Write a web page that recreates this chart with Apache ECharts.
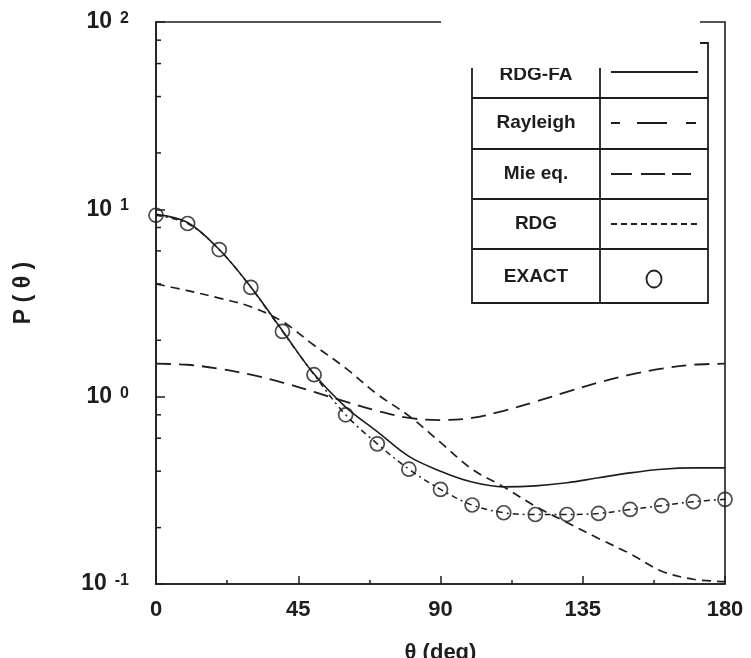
<!DOCTYPE html>
<html>
<head>
<meta charset="utf-8">
<script src="https://cdn.jsdelivr.net/npm/echarts@6/dist/echarts.min.js"></script>
<style>
  html, body { margin: 0; padding: 0; background: #fff; }
  #chart { width: 751px; height: 658px; }
</style>
</head>
<body>
<div id="chart"></div>
<script>
// scattering angle (deg)
const thetaDeg = [0, 10, 20, 30, 40, 50, 60, 70, 80, 90, 100, 110, 120, 130, 140, 150, 160, 170, 180]

// phase function values
const rdgfaP = [9.4, 8.5, 6.1, 3.85, 2.25, 1.32, 0.88, 0.65, 0.48, 0.4, 0.35, 0.33, 0.334, 0.347, 0.369, 0.392, 0.41, 0.417, 0.417]
const rayleighP = [1.5, 1.48, 1.41, 1.31, 1.19, 1.06, 0.94, 0.84, 0.77, 0.75, 0.77, 0.84, 0.94, 1.06, 1.19, 1.31, 1.41, 1.48, 1.5]
const rdgP = [4.0, 3.68, 3.36, 3.02, 2.52, 1.88, 1.42, 1.03, 0.79, 0.57, 0.41, 0.33, 0.26, 0.213, 0.175, 0.145, 0.117, 0.106, 0.103]
const mieP = [9.3, 8.4, 6.1, 3.83, 2.23, 1.31, 0.8, 0.56, 0.41, 0.32, 0.264, 0.24, 0.235, 0.235, 0.238, 0.25, 0.262, 0.275, 0.283]
const exactP = [9.3, 8.4, 6.1, 3.83, 2.23, 1.31, 0.8, 0.56, 0.41, 0.32, 0.264, 0.24, 0.235, 0.235, 0.238, 0.25, 0.262, 0.275, 0.283]

// axis ticks
const xTicks = [0, 45, 90, 135, 180]
const yMinorTicks = [0.2, 0.4, 0.6, 0.8, 2, 4, 6, 8, 20, 40, 60, 80]

// legend rows
const legendNames = ['RDG-FA', 'Rayleigh', 'Mie eq.', 'RDG', 'EXACT']

const INK = '#1e1e1e'
const FONT = '"Liberation Sans", Arial, Helvetica, sans-serif'

const chart = echarts.init(document.getElementById('chart'))

function pairs(ys) {
  return thetaDeg.map((t, i) => [t, ys[i]])
}

function lineSeries(name, ys, dash, width) {
  return {
    name,
    type: 'line',
    data: pairs(ys),
    smooth: 0.35,
    showSymbol: false,
    symbol: 'none',
    silent: true,
    lineStyle: { color: INK, width: width || 1.6, type: dash || 'solid' },
    z: 3
  }
}

// legend table (drawn as graphics, like the boxed key of the original)
const tbl = { x0: 472, x1: 708, xm: 600, ys: [43, 98, 149, 199, 249, 303] }
const legendGraphics = []
legendGraphics.push({
  type: 'rect',
  shape: { x: tbl.x0, y: tbl.ys[0], width: tbl.x1 - tbl.x0, height: tbl.ys[5] - tbl.ys[0] },
  style: { fill: '#fff', stroke: INK, lineWidth: 1.8 },
  z: 100
})
tbl.ys.slice(1, 5).forEach(y => {
  legendGraphics.push({
    type: 'line',
    shape: { x1: tbl.x0, y1: y, x2: tbl.x1, y2: y },
    style: { stroke: INK, lineWidth: 1.8 },
    z: 101
  })
})
legendGraphics.push({
  type: 'line',
  shape: { x1: tbl.xm, y1: tbl.ys[0], x2: tbl.xm, y2: tbl.ys[5] },
  style: { stroke: INK, lineWidth: 1.8 },
  z: 101
})
const rowCenters = [75, 123, 174, 224, 277]
legendNames.forEach((name, i) => {
  legendGraphics.push({
    type: 'text',
    x: (tbl.x0 + tbl.xm) / 2,
    y: rowCenters[i],
    style: {
      text: name, fill: INK, font: 'bold 19px ' + FONT,
      textAlign: 'center', textVerticalAlign: 'middle'
    },
    z: 102
  })
})
const sampleY = [72, 123, 174, 224]
const sampleDash = [null, [9, 17, 30, 19, 10], [21, 9, 24, 7, 19], [6, 4]]
sampleDash.forEach((dash, i) => {
  legendGraphics.push({
    type: 'line',
    shape: { x1: 611, y1: sampleY[i], x2: 698, y2: sampleY[i] },
    style: { stroke: INK, lineWidth: 1.8, lineDash: dash || null },
    z: 102
  })
})
legendGraphics.push({
  type: 'ellipse',
  shape: { cx: 654, cy: 279, rx: 7.5, ry: 8.5 },
  style: { fill: 'none', stroke: INK, lineWidth: 1.8 },
  z: 102
})
// white patch over the top of the key, as in the scan
legendGraphics.push({
  type: 'rect',
  shape: { x: 441, y: 6, width: 259, height: 62 },
  style: { fill: '#fff' },
  z: 110
})

const option = {
  backgroundColor: '#fff',
  animation: false,
  textStyle: { fontFamily: FONT, color: INK },
  grid: {
    left: 156,
    right: 26,
    top: 22,
    bottom: 74,
    containLabel: false,
    outerBoundsMode: 'none',
    show: true,
    borderColor: INK,
    borderWidth: 1.6,
    backgroundColor: 'transparent'
  },
  xAxis: {
    type: 'value',
    min: 0,
    max: 180,
    interval: 45,
    name: 'θ (deg)',
    nameLocation: 'middle',
    nameGap: 58,
    nameTextStyle: { fontSize: 22, fontWeight: 'bold', color: INK, fontFamily: FONT },
    axisLine: { lineStyle: { color: INK, width: 1.6 } },
    axisTick: { inside: true, length: 8, lineStyle: { color: INK, width: 1.5 } },
    minorTick: { show: true, splitNumber: 2, length: 4, lineStyle: { color: INK, width: 1.5 } },
    splitLine: { show: false },
    axisLabel: {
      margin: 15,
      fontSize: 22,
      fontWeight: 'bold',
      color: INK,
      fontFamily: FONT,
      formatter: v => (xTicks.indexOf(v) >= 0 ? String(v) : '')
    }
  },
  yAxis: {
    type: 'log',
    logBase: 10,
    min: 0.1,
    max: 100,
    name: 'P ( θ )',
    nameLocation: 'middle',
    nameGap: 121,
    nameRotate: 90,
    nameTextStyle: { fontSize: 23, fontWeight: 'bold', color: INK, fontFamily: FONT, padding: [0, 0, 0, 20] },
    axisLine: { lineStyle: { color: INK, width: 1.6 } },
    axisTick: { inside: true, length: 9, lineStyle: { color: INK, width: 1.5 } },
    splitLine: { show: false },
    axisLabel: {
      margin: 27,
      formatter: v => '{b|10}{e|' + Math.round(Math.log10(v)) + '}',
      rich: {
        b: { fontSize: 23, fontWeight: 'bold', color: INK, fontFamily: FONT },
        e: { fontSize: 16, fontWeight: 'bold', color: INK, fontFamily: FONT, verticalAlign: 'top', padding: [0, 0, 0, 8] }
      }
    }
  },
  series: [
    lineSeries('Rayleigh', rayleighP, [15, 8], 1.8),
    lineSeries('RDG', rdgP, [9, 6], 1.7),
    lineSeries('Mie eq.', mieP, [6, 4, 2, 4], 1.5),
    lineSeries('RDG-FA', rdgfaP, 'solid', 1.6),
    {
      name: 'EXACT',
      type: 'scatter',
      data: pairs(exactP),
      symbol: 'circle',
      symbolSize: 14,
      silent: true,
      itemStyle: { color: 'rgba(0,0,0,0)', borderColor: INK, borderWidth: 1.7 },
      z: 5
    },
    {
      // minor ticks on the log axis at 2,4,6,8 x 10^n
      name: 'yMinorTicks',
      type: 'custom',
      silent: true,
      data: yMinorTicks.map(v => [0, v]),
      renderItem: (params, api) => {
        const p = api.coord([api.value(0), api.value(1)])
        return {
          type: 'line',
          shape: { x1: p[0], y1: p[1], x2: p[0] + 5, y2: p[1] },
          style: { stroke: INK, lineWidth: 1.5 }
        }
      },
      z: 4
    }
  ],
  graphic: legendGraphics
}

chart.setOption(option)
</script>
</body>
</html>
